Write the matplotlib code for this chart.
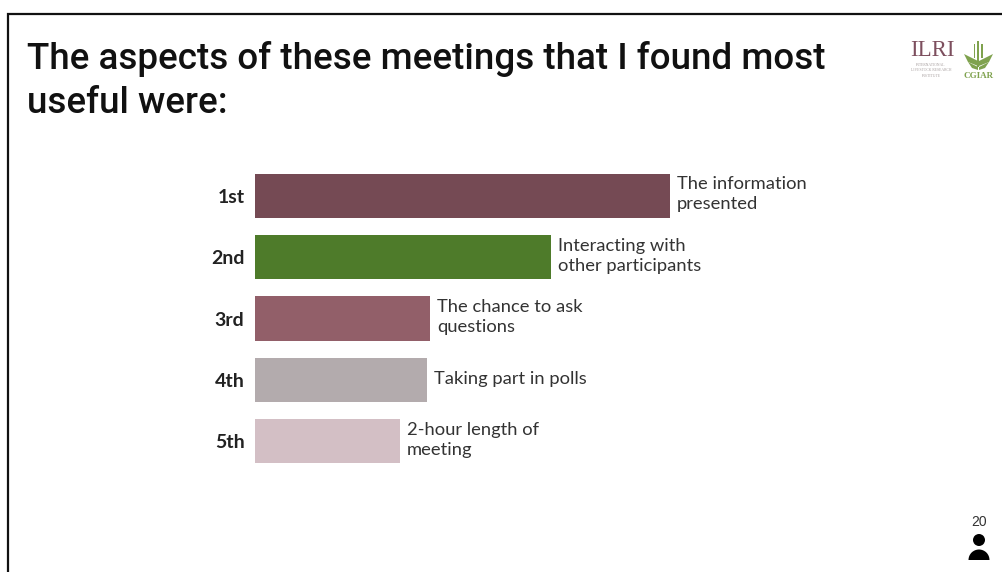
import matplotlib
matplotlib.use("Agg")
import matplotlib.pyplot as plt
from matplotlib.patches import Circle, Rectangle, Wedge, Polygon

W, H = 1003, 572

ranks = ["1st", "2nd", "3rd", "4th", "5th"]
scores = [415, 296, 175, 172, 145]
labels = ["The information\npresented", "Interacting with\nother participants",
          "The chance to ask\nquestions", "Taking part in polls",
          "2-hour length of\nmeeting"]
colours = ["#754a54", "#4e7b2a", "#925f69", "#b3abad", "#d3bfc5"]

title = "The aspects of these meetings that I found most\nuseful were:"
page_number = "20"

plt.rcParams['font.family'] = ['Lato', 'DejaVu Sans']

fig = plt.figure(figsize=(W / 100, H / 100), dpi=100)

# full page layer in pixel coordinates
page = fig.add_axes([0, 0, 1, 1])
page.set_xlim(0, W)
page.set_ylim(H, 0)
page.axis("off")

page.plot([8.5, 8.5, W], [H, 14, 14], color="#111111", lw=1.6, solid_joinstyle="miter")

page.text(27, 81, title, family="Roboto", fontsize=26.5, fontweight="medium", color="#111111",
          va="center", ha="left", linespacing=1.32)

# bars
ax = fig.add_axes([255 / W, 1 - 472 / H, 500 / W, 307 / H])
ax.patch.set_alpha(0)
ax.barh(range(len(ranks)), scores, height=0.72, color=colours)
ax.set_xlim(0, 500)
ax.set_ylim(4.5, -0.5)
ax.set_xticks([])
ax.set_yticks(range(len(ranks)))
ax.set_yticklabels(ranks, family="Lato", fontsize=14, fontweight="bold", color="#222222")
ax.tick_params(axis="y", length=0, pad=7.5)
for side in ax.spines.values():
    side.set_visible(False)

for i, (score, label) in enumerate(zip(scores, labels)):
    ax.text(score + 7, i - 0.02, label, fontsize=13.2, color="#333333",
            va="center", ha="left", linespacing=1.31)

# ILRI logo
page.text(932, 50, "ILRI", family="Liberation Serif", fontsize=16.5, color="#7d4f5e",
          ha="center", va="center")
for y, txt in [(65, "INTERNATIONAL"), (70, "LIVESTOCK RESEARCH"), (76, "INSTITUTE")]:
    page.text(931, y, txt, family="Liberation Serif", fontsize=2.7, color="#a8a0a0",
              ha="center", va="center")

# CGIAR wheat mark
green = "#7fa24e"
page.add_patch(Rectangle((977.5, 41), 1.6, 26, color=green, lw=0))
page.add_patch(Rectangle((974, 44), 1.2, 14, color=green, lw=0))
page.add_patch(Rectangle((981.5, 44), 1.2, 14, color=green, lw=0))
page.add_patch(Polygon([[964, 54], [978, 61], [978, 66], [968, 62]], color=green, lw=0))
page.add_patch(Polygon([[993, 54], [979, 61], [979, 66], [989, 62]], color=green, lw=0))
page.add_patch(Polygon([[968, 62], [978, 67], [978, 70], [972, 68]], color=green, lw=0))
page.add_patch(Polygon([[989, 62], [979, 67], [979, 70], [985, 68]], color=green, lw=0))
page.text(979, 76, "CGIAR", family="Liberation Serif", fontsize=6.5, fontweight="bold",
          color=green, ha="center", va="center")

# page number and person icon
page.text(979, 522, page_number, family="Liberation Sans", fontsize=10, color="#333333",
          ha="center", va="center")
page.add_patch(Circle((979, 540), 6, color="#000000", lw=0))
page.add_patch(Wedge((979, 560), 10.5, 180, 360, color="#000000", lw=0))

fig.savefig("out.png", dpi=100)
